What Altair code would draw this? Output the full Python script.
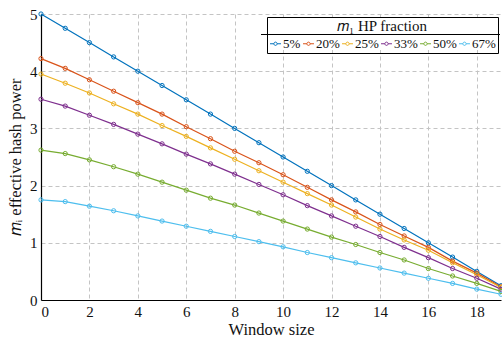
import altair as alt
import pandas as pd

window = list(range(20))
series_names = ["5%", "20%", "25%", "33%", "50%", "67%"]
colors = ["#0072BD", "#D95319", "#EDB120", "#7E2F8E", "#77AC30", "#4DBEEE"]

v5 = [5.0, 4.75, 4.5, 4.25, 4.0, 3.75, 3.5, 3.25, 3.0, 2.75, 2.5, 2.25, 2.0, 1.75, 1.5, 1.25, 1.0, 0.75, 0.5, 0.25]
v20 = [4.22, 4.05, 3.85, 3.65, 3.45, 3.25, 3.03, 2.82, 2.6, 2.4, 2.19, 1.97, 1.75, 1.54, 1.32, 1.12, 0.92, 0.68, 0.47, 0.23]
v25 = [3.95, 3.79, 3.62, 3.43, 3.25, 3.05, 2.86, 2.66, 2.46, 2.26, 2.06, 1.86, 1.66, 1.45, 1.24, 1.05, 0.87, 0.65, 0.44, 0.22]
v33 = [3.51, 3.39, 3.23, 3.07, 2.90, 2.73, 2.55, 2.38, 2.20, 2.02, 1.84, 1.65, 1.47, 1.29, 1.11, 0.92, 0.74, 0.55, 0.38, 0.19]
v50 = [2.62, 2.56, 2.45, 2.33, 2.20, 2.06, 1.92, 1.78, 1.66, 1.52, 1.38, 1.24, 1.10, 0.97, 0.83, 0.70, 0.55, 0.42, 0.29, 0.15]
v67 = [1.75, 1.72, 1.64, 1.56, 1.47, 1.38, 1.29, 1.20, 1.11, 1.02, 0.93, 0.83, 0.74, 0.65, 0.56, 0.47, 0.38, 0.29, 0.19, 0.10]

rows = []
for name, vals in zip(series_names, [v5, v20, v25, v33, v50, v67]):
    for x, v in zip(window, vals):
        rows.append({"x": x, "y": v, "series": name})
df = pd.DataFrame(rows)

FONT = "Liberation Serif"

lines = alt.Chart(df).mark_line(
    strokeWidth=1.2,
    point=alt.OverlayMarkDef(filled=False, size=18, strokeWidth=1),
).encode(
    x=alt.X("x:Q", scale=alt.Scale(domain=[0, 19], nice=False),
            axis=alt.Axis(values=list(range(0, 19, 2)), title="Window size")),
    y=alt.Y("y:Q", scale=alt.Scale(domain=[0, 5], nice=False),
            axis=alt.Axis(values=[0, 1, 2, 3, 4, 5], title="𝑚ᵢ effective hash power")),
    color=alt.Color("series:N",
                    scale=alt.Scale(domain=series_names, range=colors),
                    legend=alt.Legend(
                        title="𝑚₁ HP fraction",
                        orient="top-right",
                        direction="horizontal",
                        columns=6,
                        offset=3,
                        padding=2,
                        titleAnchor="middle",
                        titleFontSize=15,
                        titleFontWeight="normal",
                        titleFont=FONT,
                        titleColor="#111",
                        titlePadding=3,
                        labelFont=FONT,
                        labelFontSize=13,
                        labelColor="#111",
                        labelOffset=1,
                        columnPadding=0,
                        symbolType="M-1,0L-0.3,0M0.3,0L1,0M-0.3,0A0.3,0.3 0 1,0 0.3,0A0.3,0.3 0 1,0 -0.3,0",
                        symbolSize=120,
                        symbolStrokeWidth=1,
                        symbolFillColor="transparent",
                        strokeColor="black",
                        cornerRadius=0,
                    )),
)

cover = alt.Chart(pd.DataFrame({"a": [0]})).mark_rect(color="white").encode(
    x=alt.value(221), x2=alt.value(459), y=alt.value(4), y2=alt.value(36)
)
sep = alt.Chart(pd.DataFrame({"a": [0]})).mark_rule(color="black", strokeWidth=1).encode(
    x=alt.value(220), x2=alt.value(459), y=alt.value(20.5)
)

chart = alt.layer(cover, sep, lines).properties(
    width=460, height=286,
    padding={"left": 41, "top": 14, "right": 1, "bottom": 37},
    autosize="none",
).configure_view(stroke=None).configure_legend(strokeWidth=1).configure_axis(
    labelFont=FONT, titleFont=FONT, labelFontSize=15, titleFontSize=16.5,
    titleFontWeight="normal", labelColor="#111", titleColor="#111",
    domainColor="black", domainWidth=1.2, ticks=False,
    gridColor="#c4c4c4", gridDash=[4, 3], gridWidth=1,
).configure_axisX(titlePadding=2, labelPadding=4).configure_axisY(titlePadding=6, labelPadding=4)

chart.save("out.html", embed_options={"renderer": "svg", "actions": False})
